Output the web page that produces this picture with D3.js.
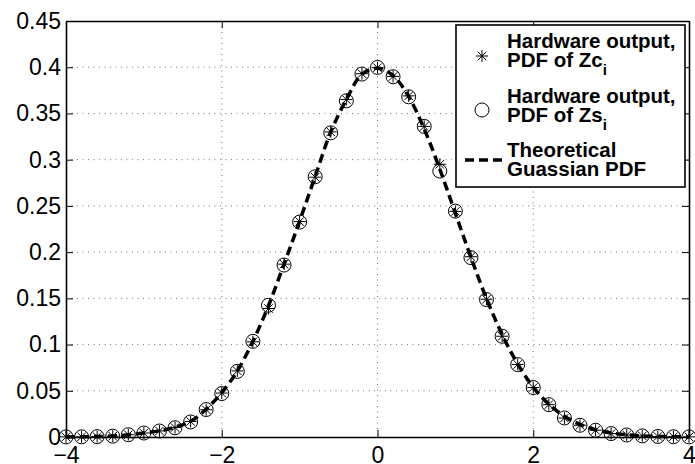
<!DOCTYPE html>
<html>
<head>
<meta charset="utf-8">
<script src="https://cdn.jsdelivr.net/npm/d3@7"></script>
<style>
body { margin: 0; background: #fff; }
svg { display: block; }
</style>
</head>
<body>
<div id="chart"></div>
<script>
// sample positions (bin centres)
var xs = [-4, -3.8, -3.6, -3.4, -3.2, -3, -2.8, -2.6, -2.4, -2.2, -2, -1.8, -1.6, -1.4, -1.2, -1, -0.8, -0.6, -0.4, -0.2,
  0, 0.2, 0.4, 0.6, 0.8, 1, 1.2, 1.4, 1.6, 1.8, 2, 2.2, 2.4, 2.6, 2.8, 3, 3.2, 3.4, 3.6, 3.8, 4];

// hardware output, PDF of Zc (stars)
var zcPdf = [0.0001, 0.0002, 0.0004, 0.0009, 0.0025, 0.0043, 0.0066, 0.0102, 0.0168, 0.0295, 0.0475, 0.0715, 0.1030, 0.1390, 0.1870, 0.2330, 0.2810, 0.3300, 0.3650, 0.3930,
  0.3995, 0.3900, 0.3690, 0.3360, 0.2950, 0.2440, 0.1950, 0.1490, 0.1090, 0.0785, 0.0535, 0.0350, 0.0205, 0.0127, 0.0073, 0.0037, 0.0022, 0.0012, 0.0006, 0.0003, 0.0001];

// hardware output, PDF of Zs (circles)
var zsPdf = [0.0001, 0.0002, 0.0004, 0.0009, 0.0025, 0.0043, 0.0065, 0.0100, 0.0163, 0.0297, 0.0470, 0.0710, 0.1035, 0.1425, 0.1860, 0.2325, 0.2815, 0.3290, 0.3637, 0.3926,
  0.3998, 0.3897, 0.3680, 0.3360, 0.2876, 0.2443, 0.1940, 0.1487, 0.1090, 0.0783, 0.0535, 0.0350, 0.0206, 0.0127, 0.0073, 0.0037, 0.0022, 0.0012, 0.0006, 0.0003, 0.0001];

// theoretical curve as drawn
var theory = [0.0001, 0.0002, 0.0005, 0.0010, 0.0024, 0.0044, 0.0068, 0.0105, 0.0170, 0.0300, 0.0480, 0.0715, 0.1035, 0.1420, 0.1870, 0.2335, 0.2820, 0.3300, 0.3650, 0.3925,
  0.3990, 0.3910, 0.3683, 0.3332, 0.2897, 0.2420, 0.1942, 0.1497, 0.1109, 0.0790, 0.0540, 0.0355, 0.0224, 0.0136, 0.0079, 0.0044, 0.0024, 0.0012, 0.0006, 0.0003, 0.0001];

var xTicks = [-4, -2, 0, 2, 4];
var yTicks = [0, 0.05, 0.1, 0.15, 0.2, 0.25, 0.3, 0.35, 0.4, 0.45];
var legendLabels = [["Hardware output,", "PDF of Zc", "i"], ["Hardware output,", "PDF of Zs", "i"], ["Theoretical", "Guassian PDF", ""]];

var W = 695, H = 464;
var margin = {top: 21, right: 6, bottom: 27, left: 66};
var width = W - margin.left - margin.right,
    height = H - margin.top - margin.bottom;

var svg = d3.select("#chart").append("svg")
  .attr("width", W).attr("height", H)
  .style("font-family", "'Liberation Sans', Arial, sans-serif");

var g = svg.append("g").attr("transform", `translate(${margin.left},${margin.top})`);

var x = d3.scaleLinear().domain([-4, 4]).range([0, width]);
var y = d3.scaleLinear().domain([0, 0.45]).range([height, 0]);

// grid
g.append("g").selectAll("line").data(yTicks.slice(1, -1)).join("line")
  .attr("x1", 0).attr("x2", width)
  .attr("y1", d => y(d)).attr("y2", d => y(d))
  .attr("stroke", "#777").attr("stroke-width", 1).attr("stroke-dasharray", "1,4.5");
g.append("g").selectAll("line").data(xTicks.slice(1, -1)).join("line")
  .attr("y1", 0).attr("y2", height)
  .attr("x1", d => x(d)).attr("x2", d => x(d))
  .attr("stroke", "#777").attr("stroke-width", 1).attr("stroke-dasharray", "1,4.5");

// axes (inward ticks on all four sides)
var fmtX = d => d < 0 ? "\u2212" + Math.abs(d) : String(d);
var fmtY = d => d === 0 ? "0" : String(+d.toFixed(2));

var xb = g.append("g").attr("transform", `translate(0,${height})`)
  .call(d3.axisBottom(x).tickValues(xTicks).tickFormat(fmtX).tickSizeInner(-7).tickSizeOuter(0).tickPadding(12));
var yl = g.append("g")
  .call(d3.axisLeft(y).tickValues(yTicks).tickFormat(fmtY).tickSizeInner(-7).tickSizeOuter(0).tickPadding(5));
var xt = g.append("g")
  .call(d3.axisTop(x).tickValues(xTicks).tickFormat("").tickSizeInner(-7).tickSizeOuter(0));
var yr = g.append("g").attr("transform", `translate(${width},0)`)
  .call(d3.axisRight(y).tickValues(yTicks).tickFormat("").tickSizeInner(-7).tickSizeOuter(0));

[xb, yl, xt, yr].forEach(function(a) {
  a.select(".domain").attr("stroke", "#000").attr("stroke-width", 1.6);
  a.selectAll(".tick line").attr("stroke", "#000").attr("stroke-width", 1);
  a.selectAll("text").attr("fill", "#000").style("font-size", "23px").attr("font-family", null);
});
xb.selectAll("text").attr("dy", "0.62em");

// markers
function starPath(r) {
  var d = "";
  for (var k = 0; k < 4; k++) {
    var a = k * Math.PI / 4;
    d += `M${-r * Math.cos(a)},${-r * Math.sin(a)}L${r * Math.cos(a)},${r * Math.sin(a)}`;
  }
  return d;
}

g.append("g").selectAll("path").data(xs).join("path")
  .attr("transform", (d, i) => `translate(${x(d)},${y(zcPdf[i])})`)
  .attr("d", starPath(6))
  .attr("stroke", "#000").attr("stroke-width", 1).attr("fill", "none");

g.append("g").selectAll("circle").data(xs).join("circle")
  .attr("cx", d => x(d)).attr("cy", (d, i) => y(zsPdf[i]))
  .attr("r", 7)
  .attr("stroke", "#000").attr("stroke-width", 1).attr("fill", "none");

var line = d3.line()
  .x(d => x(d[0])).y(d => y(d[1]))
  .curve(d3.curveCatmullRom);
g.append("path")
  .datum(xs.map((d, i) => [d, theory[i]]))
  .attr("d", line)
  .attr("fill", "none").attr("stroke", "#000")
  .attr("stroke-width", 3.5).attr("stroke-dasharray", "9,5");

// legend
var lg = svg.append("g");
lg.append("rect")
  .attr("x", 456).attr("y", 25).attr("width", 229).attr("height", 162)
  .attr("fill", "#fff").attr("stroke", "#000").attr("stroke-width", 1.6);

var rowY = [48, 103, 157];
legendLabels.forEach(function(lab, i) {
  var t = lg.append("text").attr("x", 507).attr("y", rowY[i])
    .style("font-size", "20.5px").style("font-weight", "bold").attr("fill", "#000");
  t.append("tspan").attr("x", 507).attr("dy", 0).text(lab[0]);
  t.append("tspan").attr("x", 507).attr("dy", 19).text(lab[1]);
  if (lab[2]) t.append("tspan").attr("dy", 8).style("font-size", "15px").text(lab[2]);
});

lg.append("path").attr("transform", "translate(482,56)").attr("d", starPath(6))
  .attr("stroke", "#000").attr("stroke-width", 1).attr("fill", "none");
lg.append("circle").attr("cx", 482).attr("cy", 110).attr("r", 7)
  .attr("stroke", "#000").attr("stroke-width", 1).attr("fill", "none");
lg.append("line").attr("x1", 465).attr("x2", 503).attr("y1", 160).attr("y2", 160)
  .attr("stroke", "#000").attr("stroke-width", 3.5).attr("stroke-dasharray", "9,5");
</script>
</body>
</html>
